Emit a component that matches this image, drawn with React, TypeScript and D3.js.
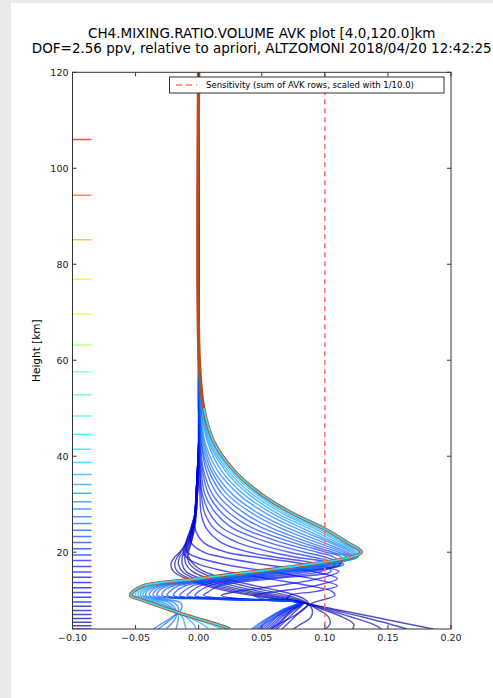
import React from "react";
import * as d3 from "d3";

const heights = [4, 5, 6.5, 8, 9.4, 10.2, 11, 11.8, 13, 14.5, 16, 17.5, 19, 20, 22, 25, 28, 32, 37, 43, 50, 60, 120];

// low level rows (fan at the bottom, pivot near 9.4 km, dip left near 17 km)
const row040 = [0.186, 0.167, 0.139, 0.110, 0.084, 0.062, 0.042, 0.025, 0.006, -0.010, -0.020, -0.022, -0.019, -0.015, -0.010, -0.005, -0.003, -0.002, -0.001, 0, 0, 0, 0];
const row047 = [0.165, 0.152, 0.130, 0.106, 0.084, 0.066, 0.047, 0.030, 0.010, -0.007, -0.017, -0.019, -0.017, -0.014, -0.009, -0.005, -0.003, -0.002, -0.001, 0, 0, 0, 0];
const row054 = [0.145, 0.138, 0.121, 0.102, 0.084, 0.070, 0.053, 0.036, 0.015, -0.003, -0.013, -0.016, -0.015, -0.012, -0.008, -0.005, -0.003, -0.002, -0.001, 0, 0, 0, 0];
const row062 = [0.122, 0.123, 0.114, 0.099, 0.084, 0.073, 0.058, 0.042, 0.021, 0.002, -0.010, -0.013, -0.013, -0.011, -0.008, -0.004, -0.003, -0.002, -0.001, 0, 0, 0, 0];
const row070 = [0.100, 0.104, 0.103, 0.095, 0.085, 0.077, 0.064, 0.049, 0.028, 0.008, -0.005, -0.010, -0.011, -0.010, -0.007, -0.004, -0.002, -0.001, 0, 0, 0, 0, 0];
const row079 = [0.075, 0.081, 0.089, 0.090, 0.086, 0.080, 0.070, 0.057, 0.036, 0.014, 0.000, -0.007, -0.009, -0.009, -0.006, -0.004, -0.002, -0.001, 0, 0, 0, 0, 0];
const row088 = [0.057, 0.063, 0.074, 0.083, 0.087, 0.084, 0.077, 0.066, 0.045, 0.021, 0.004, -0.004, -0.008, -0.008, -0.006, -0.003, -0.002, -0.001, 0, 0, 0, 0, 0];

// middle rows (peaks on the right edge of the mesh)
const row106 = [0.066, 0.070, 0.076, 0.082, 0.090, 0.100, 0.108, 0.106, 0.088, 0.055, 0.022, 0.000, -0.010, -0.012, -0.010, -0.006, -0.003, -0.002, -0.001, 0, 0, 0, 0];
const row126 = [0.062, 0.066, 0.072, 0.078, 0.083, 0.070, 0.072, 0.092, 0.110, 0.090, 0.055, 0.020, -0.002, -0.009, -0.010, -0.006, -0.003, -0.002, -0.001, 0, 0, 0, 0];
const row137 = [0.060, 0.064, 0.069, 0.076, 0.082, 0.052, 0.044, 0.062, 0.092, 0.110, 0.090, 0.050, 0.018, 0.004, -0.006, -0.006, -0.003, -0.002, -0.001, 0, 0, 0, 0];
const row148 = [0.058, 0.062, 0.068, 0.074, 0.081, 0.035, 0.018, 0.030, 0.062, 0.095, 0.111, 0.085, 0.045, 0.022, 0.004, -0.003, -0.003, -0.002, -0.001, 0, 0, 0, 0];

// upper rows, nested inside the envelope
const row159 = [0.056, 0.060, 0.066, 0.074, 0.082, 0.044, 0.004, 0.008, 0.016, 0.059, 0.105, 0.095, 0.060, 0.040, 0.018, 0.006, 0.002, 0.001, 0, 0, 0, 0, 0];
const row170 = [0.054, 0.058, 0.064, 0.072, 0.081, 0.038, -0.003, 0.000, 0.008, 0.051, 0.097, 0.108, 0.076, 0.058, 0.031, 0.012, 0.005, 0.002, 0.001, 0, 0, 0, 0];
const row183 = [0.052, 0.056, 0.062, 0.071, 0.080, 0.033, -0.009, -0.006, 0.001, 0.044, 0.090, 0.112, 0.090, 0.072, 0.044, 0.019, 0.009, 0.003, 0.001, 0, 0, 0, 0];
const row194 = [0.050, 0.054, 0.061, 0.070, 0.080, 0.029, -0.015, -0.012, -0.005, 0.038, 0.084, 0.115, 0.100, 0.084, 0.056, 0.027, 0.014, 0.005, 0.002, 0.0005, 0, 0, 0];
const row207 = [0.048, 0.052, 0.060, 0.069, 0.079, 0.025, -0.020, -0.018, -0.011, 0.032, 0.078, 0.113, 0.107, 0.094, 0.066, 0.035, 0.019, 0.008, 0.003, 0.001, 0, 0, 0];
const row220 = [0.046, 0.051, 0.058, 0.068, 0.079, 0.021, -0.025, -0.023, -0.016, 0.027, 0.073, 0.112, 0.113, 0.101, 0.075, 0.043, 0.025, 0.011, 0.004, 0.001, 0, 0, 0];
const row233 = [0.044, 0.049, 0.057, 0.067, 0.078, 0.017, -0.029, -0.028, -0.020, 0.023, 0.069, 0.110, 0.117, 0.106, 0.082, 0.051, 0.031, 0.015, 0.006, 0.002, 0.0005, 0, 0];
const row246 = [0.042, 0.047, 0.056, 0.066, 0.078, 0.013, -0.033, -0.032, -0.024, 0.019, 0.065, 0.107, 0.120, 0.111, 0.088, 0.058, 0.037, 0.019, 0.008, 0.002, 0.001, 0, 0];
const row260 = [-0.036, -0.030, -0.021, -0.014, -0.014, -0.026, -0.036, -0.035, -0.027, 0.016, 0.062, 0.104, 0.122, 0.115, 0.094, 0.065, 0.043, 0.023, 0.010, 0.003, 0.001, 0, 0];
const row274 = [-0.032, -0.027, -0.020, -0.016, -0.019, -0.030, -0.039, -0.038, -0.030, 0.013, 0.059, 0.102, 0.123, 0.118, 0.099, 0.071, 0.048, 0.027, 0.012, 0.004, 0.001, 0, 0];
const row290 = [-0.026, -0.022, -0.018, -0.018, -0.023, -0.033, -0.042, -0.041, -0.032, 0.011, 0.057, 0.100, 0.124, 0.121, 0.104, 0.077, 0.054, 0.032, 0.015, 0.005, 0.002, 0, 0];
const row305 = [-0.018, -0.017, -0.016, -0.019, -0.027, -0.036, -0.044, -0.043, -0.034, 0.009, 0.055, 0.098, 0.125, 0.123, 0.107, 0.082, 0.059, 0.036, 0.018, 0.007, 0.002, 0, 0];
const row323 = [-0.010, -0.011, -0.013, -0.020, -0.030, -0.039, -0.046, -0.045, -0.036, 0.007, 0.053, 0.096, 0.126, 0.125, 0.110, 0.087, 0.063, 0.040, 0.021, 0.008, 0.003, 0, 0];
const row341 = [-0.002, -0.004, -0.010, -0.020, -0.033, -0.042, -0.048, -0.047, -0.038, 0.005, 0.051, 0.094, 0.126, 0.127, 0.113, 0.091, 0.067, 0.043, 0.023, 0.009, 0.003, 0, 0];
const row362 = [0.008, 0.003, -0.008, -0.021, -0.035, -0.044, -0.050, -0.049, -0.040, 0.003, 0.049, 0.092, 0.125, 0.128, 0.115, 0.094, 0.070, 0.046, 0.025, 0.010, 0.004, 0.0005, 0];
const row387 = [0.018, 0.009, -0.006, -0.022, -0.037, -0.046, -0.052, -0.051, -0.042, 0.001, 0.047, 0.090, 0.123, 0.129, 0.117, 0.097, 0.073, 0.048, 0.027, 0.011, 0.004, 0.0005, 0];

// rows above ~45 km all lie on this curve
const envelope = [0.025, 0.014, -0.005, -0.023, -0.038, -0.047, -0.054, -0.052, -0.044, -0.001, 0.045, 0.088, 0.121, 0.129, 0.118, 0.099, 0.075, 0.050, 0.028, 0.012, 0.004, 0.0005, 0];

const rowLevels = [4.0, 4.7, 5.4, 6.2, 7.0, 7.85, 8.75, 10.6, 12.6, 13.7, 14.8, 15.9, 17.0, 18.25, 19.4, 20.7, 22.0, 23.3, 24.6, 26.0, 27.4, 29.0, 30.5, 32.3, 34.1, 36.2, 38.7];
const rowValues = [
  row040, row047, row054, row062, row070, row079, row088,
  row106, row126, row137, row148,
  row159, row170, row183, row194, row207, row220, row233, row246,
  row260, row274, row290, row305, row323, row341, row362, row387,
];

// retrieval levels, shown as coloured marks on the left
const tickLevels = [4.0, 4.7, 5.4, 6.2, 7.0, 7.85, 8.75, 9.65, 10.6, 11.6, 12.6, 13.7, 14.8, 15.9, 17.0, 18.25, 19.4, 20.7, 22.0, 23.3, 24.6, 26.0, 27.4, 29.0, 30.5, 32.3, 34.1, 36.2, 38.7, 41.45, 44.6, 48.4, 52.8, 57.6, 63.2, 69.65, 76.9, 85.1, 94.4, 106.0];

const xTicks = [-0.1, -0.05, 0, 0.05, 0.1, 0.15, 0.2];
const yTicks = [20, 40, 60, 80, 100, 120];
const sensitivity = 0.1;
const titleLines = [
  "CH4.MIXING.RATIO.VOLUME AVK plot [4.0,120.0]km",
  "DOF=2.56 ppv, relative to apriori, ALTZOMONI 2018/04/20 12:42:25",
];
const legendLabel = "Sensitivity (sum of AVK rows, scaled with 1/10.0)";

const W = 493;
const H = 698;
const left = 72.5;
const right = 451;
const top = 72.3;
const bottom = 629;
const font = "DejaVu Sans, Liberation Sans, sans-serif";

const jet = d3
  .scaleLinear<string>()
  .domain([0, 0.125, 0.375, 0.625, 0.875, 1])
  .range(["#00007f", "#0000ff", "#00ffff", "#ffff00", "#ff0000", "#7f0000"]);

export default function App() {
  const x = d3.scaleLinear().domain([-0.1, 0.2]).range([left, right]);
  const y = d3.scaleLinear().domain([4, 120]).range([bottom, top]);
  const fmt = d3.format(".2f");

  const line = d3
    .line<number>()
    .x((v) => x(v))
    .y((_, i) => y(heights[i]))
    .curve(d3.curveCatmullRom.alpha(0.5));

  const cyanPart = envelope.filter((_, i) => heights[i] <= 50);

  return (
    <svg width={W} height={H} style={{ position: "absolute", left: 0, top: 0 }}>
      <rect x={0} y={0} width={W} height={H} fill="#ebebeb" />
      <rect x={11} y={3} width={W - 11} height={H - 3} fill="#ffffff" />

      {titleLines.map((t, i) => (
        <text key={i} x={(left + right) / 2} y={38 + i * 15} textAnchor="middle" fontFamily={font} fontSize={13.5} fill="#000">
          {t}
        </text>
      ))}

      <defs>
        <clipPath id="plotclip">
          <rect x={left} y={top} width={right - left} height={bottom - top} />
        </clipPath>
      </defs>

      <g clipPath="url(#plotclip)">
        {tickLevels.map((h, i) => (
          <line key={i} x1={left} x2={left + 19} y1={y(h)} y2={y(h)} stroke={jet(h / 120)} strokeWidth={1.5} strokeOpacity={0.7} />
        ))}
        {rowValues.map((vals, i) => (
          <path key={i} d={line(vals) || ""} fill="none" stroke={jet(rowLevels[i] / 120)} strokeWidth={1.4} strokeOpacity={0.68} />
        ))}
        <path d={line(envelope) || ""} fill="none" stroke="#b84e1c" strokeWidth={3.4} />
        <path d={line(cyanPart) || ""} fill="none" stroke="#3cd8f8" strokeWidth={1.7} />
        <line x1={x(sensitivity)} x2={x(sensitivity)} y1={top} y2={bottom} stroke="#ff7070" strokeWidth={1.6} strokeDasharray="5,4" />
      </g>

      <rect x={left} y={top} width={right - left} height={bottom - top} fill="none" stroke="#333" strokeWidth={1} />

      {xTicks.map((t, i) => (
        <g key={i}>
          <line x1={x(t)} x2={x(t)} y1={bottom} y2={bottom - 4} stroke="#333" />
          <line x1={x(t)} x2={x(t)} y1={top} y2={top + 4} stroke="#333" />
          <text x={x(t)} y={641} textAnchor="middle" fontFamily={font} fontSize={9.5} fill="#222">
            {fmt(t)}
          </text>
        </g>
      ))}
      {yTicks.map((t, i) => (
        <g key={i}>
          <line x1={left} x2={left + 4} y1={y(t)} y2={y(t)} stroke="#333" />
          <line x1={right} x2={right - 4} y1={y(t)} y2={y(t)} stroke="#333" />
          <text x={left - 4} y={y(t) + 3.3} textAnchor="end" fontFamily={font} fontSize={9.5} fill="#222">
            {t}
          </text>
        </g>
      ))}

      <text transform={`translate(40,${(top + bottom) / 2}) rotate(-90)`} textAnchor="middle" fontFamily={font} fontSize={10.5} fill="#000">
        Height [km]
      </text>

      <g>
        <rect x={169.5} y={77} width={274.5} height={16} fill="#fff" stroke="#333" strokeWidth={1} />
        <line x1={176} x2={197} y1={85} y2={85} stroke="#ff7070" strokeWidth={1.6} strokeDasharray="6,4" />
        <text x={206} y={88} fontFamily={font} fontSize={8.5} fill="#000">
          {legendLabel}
        </text>
      </g>
    </svg>
  );
}
